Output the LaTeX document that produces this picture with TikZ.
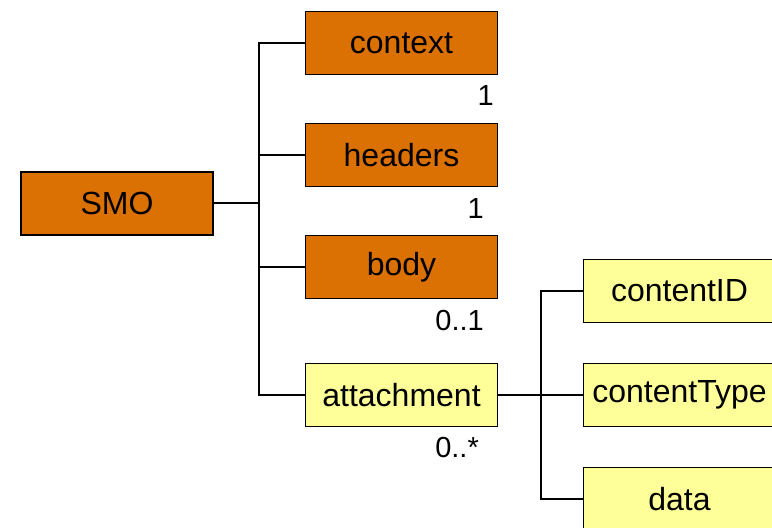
\documentclass[tikz,border=0pt]{standalone}
\usepackage{fontspec}
\setmainfont{Liberation Sans}
\definecolor{elemorange}{RGB}{219,112,3}
\definecolor{elemyellow}{RGB}{255,255,153}
\begin{document}
\begin{tikzpicture}[x=1pt,y=-1pt,
  elem/.style={draw=black, line width=1.6pt, rectangle, minimum width=192pt,
    minimum height=63pt, inner sep=0pt, font=\fontsize{32}{38}\selectfont},
  oelem/.style={elem, fill=elemorange},
  yelem/.style={elem, fill=elemyellow},
  mult/.style={anchor=base east, inner sep=0pt, font=\fontsize{29}{34}\selectfont},
  link/.style={draw=black, line width=1.8pt}]
  \useasboundingbox (0,0) rectangle (772,528);
  \clip (0,0) rectangle (772,528);

  % root element
  \node[oelem] (smo) at (117,203.5) {SMO};

  % children of SMO
  \node[oelem] (ctx) at (401.5,43) {context};
  \node[oelem] (hdr) at (401.5,155) {headers};
  \node[oelem] (bdy) at (401.5,267) {body};
  \node[yelem] (att) at (401.5,395) {attachment};

  % children of attachment
  \node[yelem] (cid) at (679.5,291) {contentID};
  \node[yelem] (ctp) at (679.5,395) {contentType};
  \node[yelem] (dat) at (679.5,499) {data};

  % multiplicities
  \node[mult] (mctx) at (494,105) {1};
  \node[mult] (mhdr) at (484,218) {1};
  \node[mult] (mbdy) at (484,330) {0..1};
  \node[mult] (matt) at (479,457) {0..*};

  % tree connectors
  \coordinate (trunk) at (259,203);
  \coordinate (trunkb) at (541,395);
  \draw[link] (smo.east |- trunk) -- (trunk);
  \draw[link] (ctx.west) -| (trunk);
  \draw[link] (hdr.west) -| (trunk);
  \draw[link] (bdy.west) -| (trunk);
  \draw[link] (att.west) -| (trunk);
  \draw[link] (att.east) -- (ctp.west);
  \draw[link] (cid.west) -| (trunkb);
  \draw[link] (dat.west) -| (trunkb);
\end{tikzpicture}
\end{document}
